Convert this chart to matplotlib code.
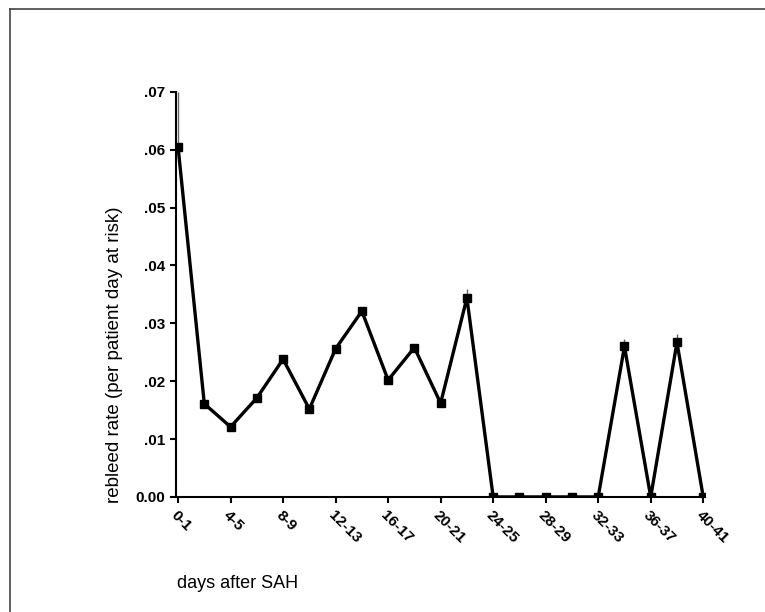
import matplotlib
matplotlib.use("Agg")
import matplotlib.pyplot as plt
from matplotlib.lines import Line2D
import numpy as np

# intervalos de 2 dias despues de la HSA
dias = ["0-1", "2-3", "4-5", "6-7", "8-9", "10-11", "12-13", "14-15", "16-17",
        "18-19", "20-21", "22-23", "24-25", "26-27", "28-29", "30-31", "32-33",
        "34-35", "36-37", "38-39", "40-41"]
tasa = [0.0605, 0.0161, 0.0121, 0.0171, 0.0238, 0.0152, 0.0256, 0.0321, 0.0202,
        0.0258, 0.0162, 0.0344, 0.0, 0.0, 0.0, 0.0, 0.0,
        0.0260, 0.0, 0.0267, 0.0]
# barra de error superior (solo se ve en algunos puntos)
err_sup = [0.0095, 0, 0, 0, 0, 0, 0, 0, 0,
           0, 0, 0.0015, 0, 0, 0, 0, 0,
           0.0013, 0, 0.0015, 0]
yticks = [0.0, 0.01, 0.02, 0.03, 0.04, 0.05, 0.06, 0.07]
ytick_labels = ["0.00", ".01", ".02", ".03", ".04", ".05", ".06", ".07"]

x = np.arange(len(dias))

fig = plt.figure(figsize=(7.65, 6.12), dpi=100)
ax = fig.add_axes([0.230, 0.188, 0.692, 0.662])

ax.errorbar(x, tasa, yerr=[np.zeros(len(err_sup)), err_sup], fmt="none",
            ecolor="#666666", elinewidth=1.0, linestyle=":", capsize=0)
ax.plot(x, tasa, color="black", lw=2.4, marker="s", ms=5.5, mfc="black", mec="black")

ax.set_xlim(-0.08, 20.08)
ax.set_ylim(0, 0.07)
ax.set_yticks(yticks)
ax.set_yticklabels(ytick_labels, fontfamily="Liberation Sans", fontweight="bold", fontsize=11)
ax.set_xticks(x[::2])
ax.set_xticklabels(dias[::2], rotation=-45, ha="left", va="top", rotation_mode="anchor",
                   fontfamily="Liberation Sans", fontweight="bold", fontsize=11)
ax.tick_params(axis="both", direction="out", length=4, width=1.5, color="black", pad=4)

ax.spines["top"].set_visible(False)
ax.spines["right"].set_visible(False)
ax.spines["left"].set_linewidth(1.5)
ax.spines["bottom"].set_linewidth(1.5)

fig.text(0.150, 0.420, "rebleed rate (per patient day at risk)", rotation=90,
         ha="center", va="center", fontfamily="Liberation Sans", fontsize=13.5)
fig.text(0.232, 0.047, "days after SAH", ha="left", va="center",
         fontfamily="Liberation Sans", fontsize=13)

# marco del escaneo (solo arriba y a la izquierda)
fig.add_artist(Line2D([0.0125, 0.0125], [0, 0.986], transform=fig.transFigure,
                      color="#444444", lw=1.2))
fig.add_artist(Line2D([0.0125, 1.0], [0.986, 0.986], transform=fig.transFigure,
                      color="#444444", lw=1.2))

fig.savefig("out.png", dpi=100)
